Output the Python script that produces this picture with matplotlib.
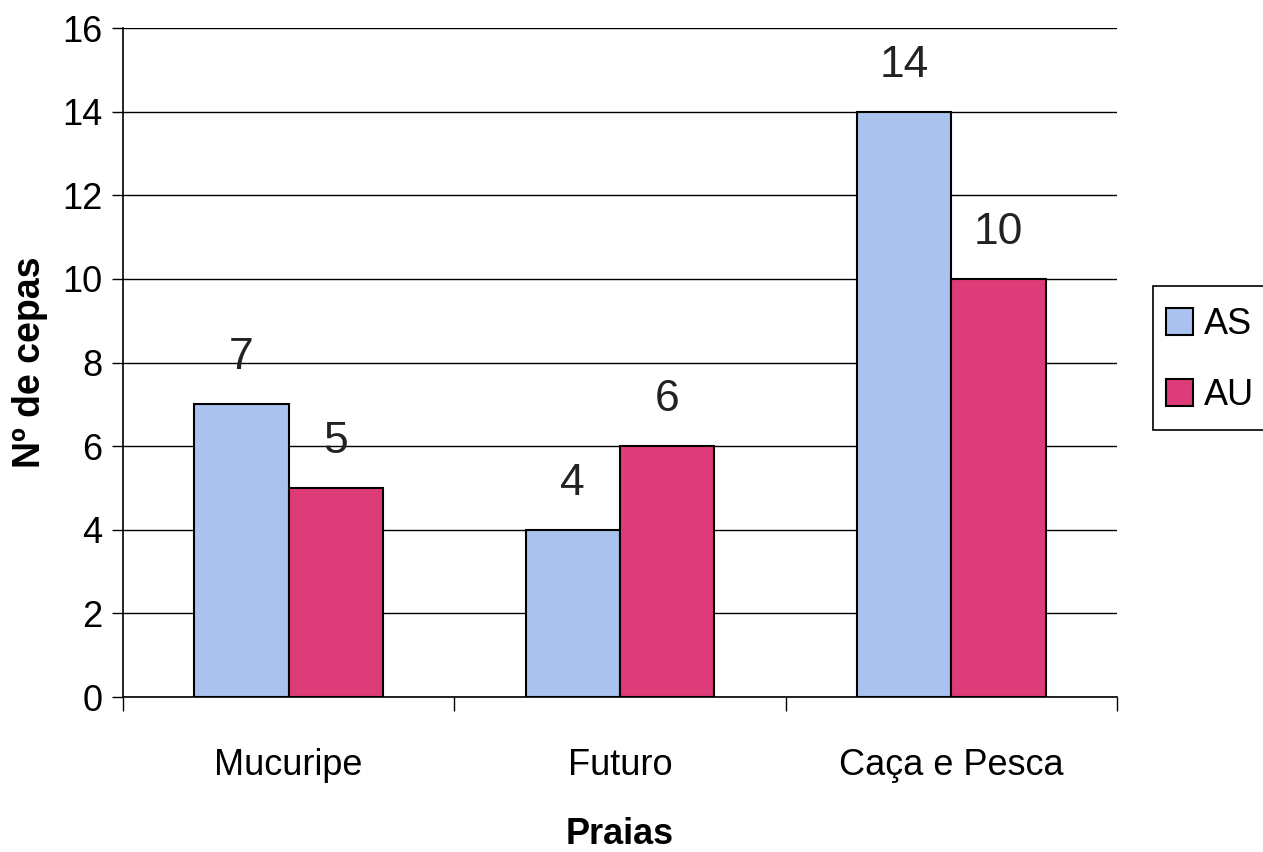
import numpy as np
import matplotlib
matplotlib.use("Agg")
import matplotlib.pyplot as plt
from matplotlib.patches import Patch, Rectangle

plt.rcParams['font.family'] = ['Liberation Sans', 'DejaVu Sans']

categories = ["Mucuripe", "Futuro", "Caça e Pesca"]
as_values = [7, 4, 14]
au_values = [5, 6, 10]
series_names = ["AS", "AU"]
y_ticks = [0, 2, 4, 6, 8, 10, 12, 14, 16]

color_as = "#a9c2ee"
color_au = "#de3c78"

fig = plt.figure(figsize=(12.63, 8.52), dpi=100)
ax = fig.add_axes([0.0974, 0.1819, 0.7870, 0.7851])

x = np.arange(len(categories))
w = 0.285
bars_as = ax.bar(x - w / 2, as_values, w, color=color_as, edgecolor="black", linewidth=1.5, zorder=3)
bars_au = ax.bar(x + w / 2, au_values, w, color=color_au, edgecolor="black", linewidth=1.5, zorder=3)

for bars, vals in ((bars_as, as_values), (bars_au, au_values)):
    for b, v in zip(bars, vals):
        ax.text(b.get_x() + b.get_width() / 2, v + 0.62, f"{v}", ha="center", va="bottom",
                fontsize=32, color="#222222")

ax.set_xlim(-0.5, len(categories) - 0.5)
ax.set_ylim(0, 16)
ax.set_yticks(y_ticks)
ax.tick_params(axis="y", labelsize=26, length=8, width=1, direction="out", pad=7)
ax.yaxis.grid(True, color="black", linewidth=1)
ax.set_axisbelow(True)

# category ticks sit between groups; labels at group centers
ax.set_xticks(np.arange(-0.5, len(categories)), minor=False)
ax.set_xticklabels([])
ax.tick_params(axis="x", length=10, width=1, direction="out")
ax.set_xticks(x, minor=True)
ax.set_xticklabels(categories, minor=True, fontsize=26)
ax.tick_params(axis="x", which="minor", length=0, pad=37)

for side in ("top", "right"):
    ax.spines[side].set_visible(False)
ax.spines["left"].set_linewidth(1.2)
ax.spines["bottom"].set_linewidth(1.2)

ax.set_ylabel("Nº de cepas", fontsize=27, fontweight="bold", labelpad=10)
ax.set_xlabel("Praias", fontsize=26, fontweight="bold", labelpad=24)

# legend box: frame drawn separately so it can run off the right edge
fig.patches.append(Rectangle((0.9129, 0.4953), 0.2, 0.169, transform=fig.transFigure,
                             facecolor="white", edgecolor="black", linewidth=1.2, zorder=1))
handles = [Patch(facecolor=color_as, edgecolor="black", linewidth=1.5),
           Patch(facecolor=color_au, edgecolor="black", linewidth=1.5)]
leg = fig.legend(handles, series_names, loc="center left", bbox_to_anchor=(0.9232, 0.5775),
                 fontsize=26, frameon=False,
                 handlelength=0.75, handleheight=0.8, handletextpad=0.3,
                 labelspacing=1.0, borderpad=0, borderaxespad=0)
leg.set_zorder(2)

fig.savefig("out.png", dpi=100)
